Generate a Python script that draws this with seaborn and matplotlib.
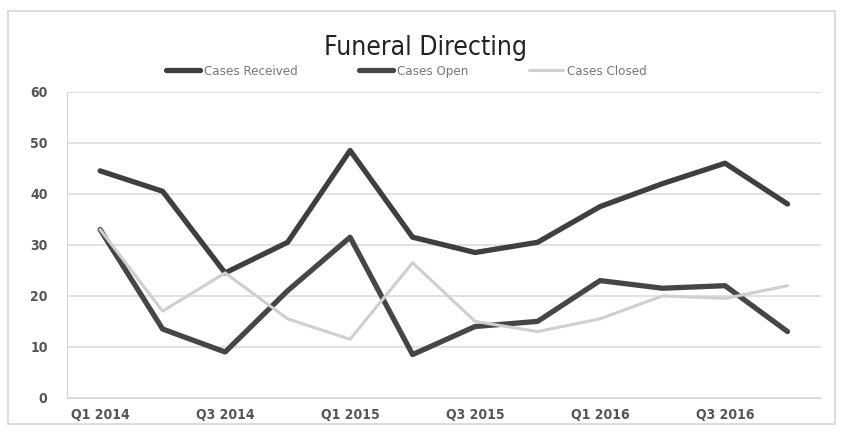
import matplotlib.pyplot as plt
import matplotlib.patches as mpatches
import pandas as pd
import seaborn as sns

# quarters on the x axis
quarters = ["Q1 2014", "Q2 2014", "Q3 2014", "Q4 2014",
            "Q1 2015", "Q2 2015", "Q3 2015", "Q4 2015",
            "Q1 2016", "Q2 2016", "Q3 2016", "Q4 2016"]
tick_labels = ["Q1 2014", "Q3 2014", "Q1 2015", "Q3 2015", "Q1 2016", "Q3 2016"]

cases_received = [44.5, 40.5, 24.5, 30.5, 48.5, 31.5, 28.5, 30.5, 37.5, 42, 46, 38]
cases_open = [33, 13.5, 9, 21, 31.5, 8.5, 14, 15, 23, 21.5, 22, 13]
cases_closed = [33, 17, 24.5, 15.5, 11.5, 26.5, 15, 13, 15.5, 20, 19.5, 22]

series_names = ["Cases Received", "Cases Open", "Cases Closed"]

df = pd.DataFrame({
    "idx": list(range(len(quarters))) * 3,
    "value": cases_received + cases_open + cases_closed,
    "series": [s for s in series_names for _ in quarters],
})

sns.set_style("white")
plt.rcParams["font.family"] = ["DejaVu Sans"]
plt.rcParams["font.stretch"] = "condensed"

fig = plt.figure(figsize=(8.43, 4.33), dpi=100)
ax = fig.add_axes([0.0795, 0.081, 0.894, 0.707])

palette = {"Cases Received": "#3f3f3f", "Cases Open": "#464646", "Cases Closed": "#cfcfcf"}
sizes = {"Cases Received": 3.8, "Cases Open": 3.8, "Cases Closed": 2.2}

sns.lineplot(data=df, x="idx", y="value", hue="series", palette=palette,
             size="series", sizes=sizes, hue_order=series_names,
             size_order=series_names, ax=ax, legend=False)

ax.set_xlim(-0.53, 11.53)
ax.set_ylim(0, 60)
ax.set_yticks(range(0, 61, 10))
ax.set_xticks(range(0, 12, 2))
ax.set_xticklabels(tick_labels)
ax.set_xlabel("")
ax.set_ylabel("")
ax.yaxis.grid(True, color="#dcdcdc", linewidth=1.2)
for side in ["top", "right"]:
    ax.spines[side].set_visible(False)
ax.spines["left"].set_color("#d5d5d5")
ax.spines["bottom"].set_color("#d5d5d5")
ax.tick_params(axis="both", colors="#555555", labelsize=10, length=0)
ax.tick_params(axis="y", pad=14)
ax.tick_params(axis="x", pad=7)
for lab in ax.get_xticklabels() + ax.get_yticklabels():
    lab.set_fontweight("bold")

fig.text(0.505, 0.89, "Funeral Directing", ha="center", va="center",
         fontsize=19, color="#222222", fontstretch="condensed")

handles = [plt.Line2D([], [], color=palette[s], lw=sizes[s]) for s in series_names]
fig.legend(handles, series_names, loc="center", bbox_to_anchor=(0.482, 0.835),
           ncol=3, frameon=False, fontsize=9.5, handlelength=2.6,
           columnspacing=4.6, handletextpad=0.3, labelcolor="#777777")

fig.patches.append(mpatches.Rectangle((0.01, 0.02), 0.98, 0.955, transform=fig.transFigure,
                                      fill=False, edgecolor="#dddddd", linewidth=1.5))

fig.savefig("out.png", dpi=100)
